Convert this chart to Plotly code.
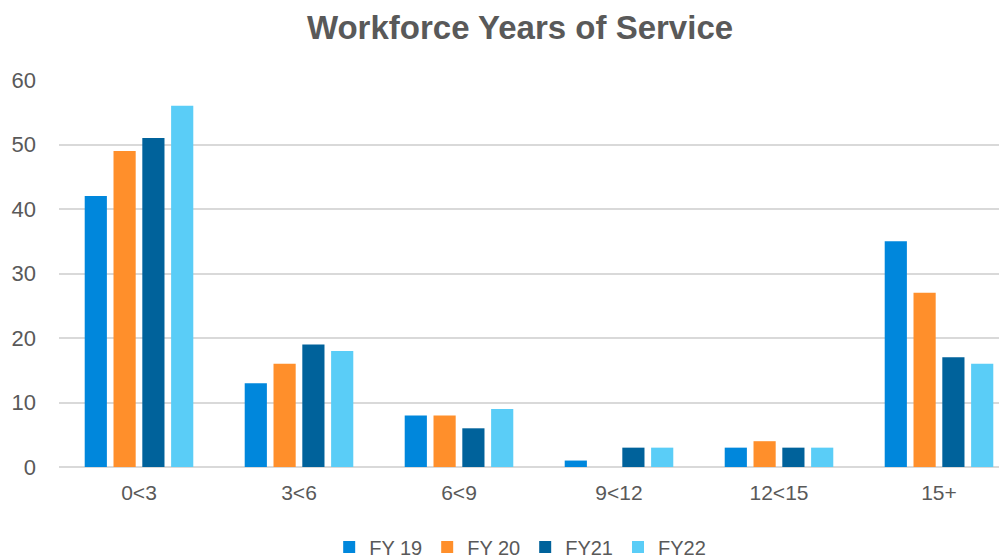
import plotly.graph_objects as go

categories = ["0<3", "3<6", "6<9", "9<12", "12<15", "15+"]
series_names = ["FY 19", "FY 20", "FY21", "FY22"]
fy19 = [42, 13, 8, 1, 3, 35]
fy20 = [49, 16, 8, 0, 4, 27]
fy21 = [51, 19, 6, 3, 3, 17]
fy22 = [56, 18, 9, 3, 3, 16]
colors = ["#0087DC", "#FF8F2B", "#00629B", "#5ACDF7"]

W, H = 999, 552  # page body has an 8px default margin

fig = go.Figure()
for name, vals, c in zip(series_names, [fy19, fy20, fy21, fy22], colors):
    fig.add_trace(go.Bar(x=list(range(len(categories))), y=vals, name=name,
                         marker=dict(color=c, line=dict(width=0))))

fig.update_layout(
    width=W, height=H,
    paper_bgcolor="white", plot_bgcolor="white",
    margin=dict(l=51, r=0, t=72, b=93, autoexpand=False),
    barmode="group", bargap=0.28, bargroupgap=0.23,
    title=dict(text="<b>Workforce Years of Service</b>", x=512 / W, xanchor="center",
               yref="container", y=1 - 19 / H, yanchor="middle",
               font=dict(family="Liberation Sans, Arial", size=33, color="#595959")),
    font=dict(family="Liberation Sans, Arial", color="#595959"),
    xaxis=dict(tickmode="array", tickvals=list(range(len(categories))), ticktext=categories,
               range=[-0.5, -0.5 + 948 / 160], showgrid=False, zeroline=False,
               showline=False, ticks="", automargin=False, ticklabelstandoff=11,
               tickfont=dict(size=21, color="#595959")),
    yaxis=dict(range=[0, 60], dtick=10, showgrid=True, gridcolor="#D9D9D9", gridwidth=1.5,
               zeroline=True, zerolinecolor="#D9D9D9", zerolinewidth=1.5, automargin=False,
               ticks="", ticklabelstandoff=22, tickfont=dict(size=22, color="#595959")),
    legend=dict(orientation="h", x=486 / W, xanchor="center", yref="container",
                y=1 - 539 / H, yanchor="middle",
                font=dict(size=20, color="#595959"), itemwidth=30, traceorder="normal"),
)

fig.write_html("out.html")
